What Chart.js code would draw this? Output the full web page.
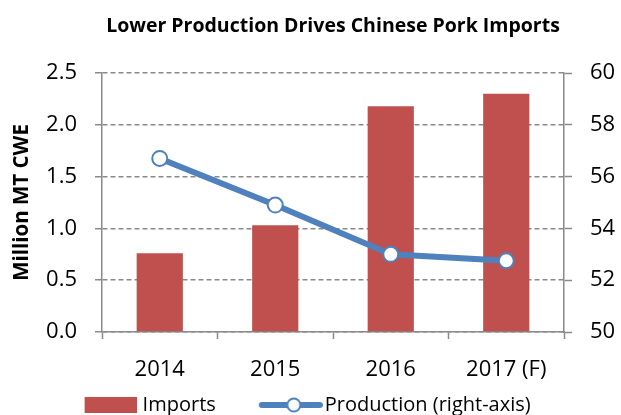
<!DOCTYPE html>
<html><head><meta charset="utf-8">
<script src="https://cdn.jsdelivr.net/npm/chart.js@4"></script>
<style>html,body{margin:0;padding:0;background:#fff}</style>
</head><body>
<canvas id="c" width="621" height="415" style="width:621px;height:415px"></canvas>
<script>
const categories = ['2014', '2015', '2016', '2017 (F)'];
const importsValues = [0.76, 1.03, 2.18, 2.30];
const productionValues = [56.7, 54.9, 53.0, 52.75];
const leftTickValues = [0, 0.5, 1.0, 1.5, 2.0, 2.5];
const rightTickValues = [50, 52, 54, 56, 58, 60];

const RED = '#C0504D', BLUE = '#4F81BD', GRID = '#8a8a8a';
Chart.defaults.font.family = "'Open Sans', sans-serif";
Chart.defaults.color = '#000';

function barImg() {
  const c = document.createElement('canvas'); c.width = 97; c.height = 16;
  const x = c.getContext('2d'); x.fillStyle = RED; x.fillRect(45, 0, 52, 16); return c;
}
function lineImg() {
  const c = document.createElement('canvas'); c.width = 105; c.height = 20;
  const x = c.getContext('2d');
  x.strokeStyle = BLUE; x.lineWidth = 6; x.lineCap = 'round';
  x.beginPath(); x.moveTo(44, 10); x.lineTo(102, 10); x.stroke();
  x.beginPath(); x.arc(76, 10, 6.5, 0, Math.PI * 2); x.fillStyle = '#fff'; x.fill();
  x.lineWidth = 2; x.stroke();
  return c;
}
const legendImgs = [barImg(), lineImg()];
// trailing blank room after the last legend entry (balances the centred legend row)
const legendTail = ['', '         '];

new Chart(document.getElementById('c'), {
  data: {
    labels: categories,
    datasets: [
      { type: 'bar', label: 'Imports', data: importsValues, backgroundColor: RED,
        yAxisID: 'y', order: 2, barPercentage: 0.4, categoryPercentage: 1.0 },
      { type: 'line', label: 'Production (right-axis)', data: productionValues,
        borderColor: BLUE, borderWidth: 6, borderCapStyle: 'round', borderJoinStyle: 'round',
        pointRadius: 7.5, pointBorderWidth: 2, pointBackgroundColor: '#fff', pointBorderColor: BLUE,
        yAxisID: 'y1', order: 1, tension: 0 }
    ]
  },
  options: {
    responsive: false, animation: false,
    layout: { padding: 0 },
    plugins: {
      tooltip: { enabled: false },
      title: { display: true, text: 'Lower Production Drives Chinese Pork Imports',
        fullSize: false, font: { size: 19.5, weight: 'bold' }, color: '#000',
        padding: { top: 15, bottom: 34.6 } },
      legend: {
        position: 'bottom', maxHeight: 30,
        labels: {
          usePointStyle: true, pointStyleWidth: 89, padding: 10,
          font: { size: 20 }, color: '#000',
          generateLabels: (chart) => chart.data.datasets.map((d, i) => ({
            text: d.label + legendTail[i], pointStyle: legendImgs[i], datasetIndex: i,
            fillStyle: 'transparent', strokeStyle: 'transparent', lineWidth: 0, hidden: false
          }))
        }
      }
    },
    scales: {
      x: {
        grid: { display: true, drawOnChartArea: false, drawTicks: true, offset: true,
          tickLength: 7, tickColor: GRID, tickWidth: 1.5 },
        border: { color: GRID, width: 1.5 },
        ticks: { font: { size: 22 }, padding: 18, maxRotation: 0 },
        afterFit: (s) => { s.height = 53; }
      },
      y: {
        position: 'left', min: 0, max: 2.5,
        afterBuildTicks: (s) => { s.ticks = leftTickValues.map(v => ({ value: v })); },
        ticks: { font: { size: 22 }, padding: 18, callback: (v) => Number(v).toFixed(1) },
        grid: { color: GRID, lineWidth: 1.5, tickLength: 7, tickColor: GRID, tickWidth: 1.5 },
        border: { color: GRID, width: 1.5, dash: [5, 3] },
        title: { display: true, text: 'Million MT CWE', font: { size: 20.5, weight: 'bold' },
          color: '#000', padding: { top: 10, bottom: 0 } },
        afterFit: (s) => { s.width = 102; }
      },
      y1: {
        position: 'right', min: 50, max: 60,
        afterBuildTicks: (s) => { s.ticks = rightTickValues.map(v => ({ value: v })); },
        ticks: { font: { size: 22 }, padding: 18 },
        grid: { drawOnChartArea: false, tickLength: 8, tickColor: GRID, tickWidth: 1.5 },
        border: { color: GRID, width: 1.5 },
        afterFit: (s) => { s.width = 57; }
      }
    }
  }
});
</script>
</body></html>
